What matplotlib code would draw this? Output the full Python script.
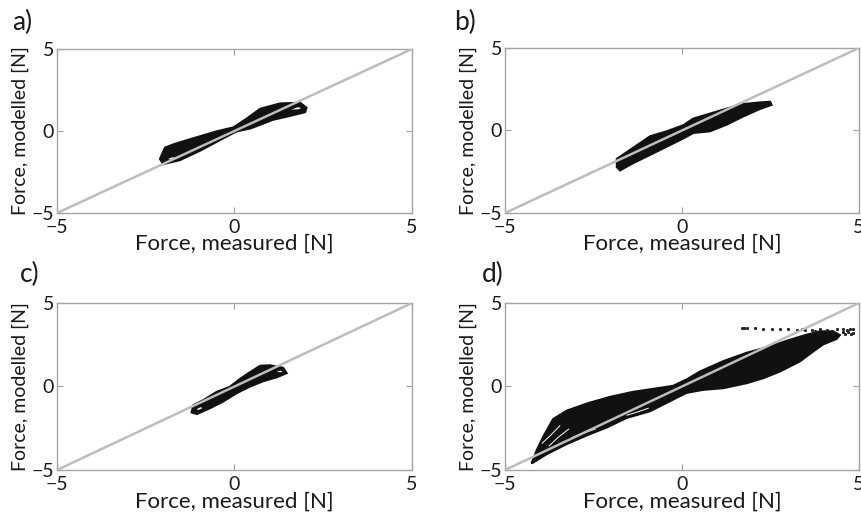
import matplotlib
matplotlib.use('Agg')
import matplotlib.pyplot as plt

plt.rcParams['font.family'] = ['Lato', 'DejaVu Sans']

# outlines of the measured/modelled force clouds
a_x = [-2.10, -1.96, -1.73, -1.25, -0.50, -0.03, 0.34, 0.72, 1.28, 1.85, 2.03,
       1.99, 1.56, 1.08, 0.44, 0.06, -0.32, -0.97, -1.54, -2.01]
a_y = [-1.70, -1.02, -0.82, -0.50, -0.02, 0.22, 0.75, 1.35, 1.68, 1.72, 1.42,
       1.15, 0.92, 0.68, 0.15, -0.02, -0.45, -1.20, -1.78, -2.02]
a_loop1_x = [1.55, 1.78, 1.95, 1.82, 1.60]
a_loop1_y = [1.32, 1.50, 1.43, 1.28, 1.25]
a_loop2_x = [-1.95, -1.75, -1.55, -1.80]
a_loop2_y = [-1.72, -1.55, -1.62, -1.80]

b_x = [-1.84, -1.38, -0.90, -0.43, 0.04, 0.32, 0.79, 1.26, 1.73, 2.20, 2.49,
       2.53, 2.20, 1.73, 1.26, 0.79, 0.32, 0.04, -0.43, -0.90, -1.38, -1.75, -1.84]
b_y = [-1.72, -1.05, -0.35, -0.05, 0.32, 0.72, 1.02, 1.32, 1.60, 1.70, 1.74,
       1.55, 1.30, 0.85, 0.35, -0.05, -0.15, -0.48, -0.98, -1.48, -1.98, -2.42, -2.22]

c_x = [-1.21, -1.16, -0.88, -0.50, -0.13, 0.15, 0.44, 0.72, 1.00, 1.37, 1.47,
       1.19, 0.81, 0.44, 0.06, -0.32, -0.69, -1.06]
c_y = [-1.55, -1.12, -0.82, -0.32, -0.02, 0.45, 0.86, 1.24, 1.27, 1.12, 0.80,
       0.55, 0.32, 0.00, -0.40, -0.90, -1.30, -1.65]
c_loop1_x = [1.08, 1.28, 1.42, 1.30]
c_loop1_y = [0.86, 1.00, 0.93, 0.80]
c_loop2_x = [-1.12, -0.95, -0.85, -1.02]
c_loop2_y = [-1.36, -1.18, -1.30, -1.46]

d_x = [-4.25, -4.10, -3.92, -3.64, -3.26, -2.69, -2.03, -1.38, -0.81, -0.25,
       0.13, 0.51, 1.17, 1.83, 2.49, 3.05, 3.52, 3.90, 4.27, 4.46,
       4.37, 3.99, 3.71, 3.33, 2.77, 2.30, 1.83, 1.17, 0.60, 0.13, -0.06,
       -0.90, -1.56, -2.13, -2.60, -3.26, -3.82, -4.20]
d_y = [-4.60, -3.80, -3.01, -1.95, -1.45, -1.02, -0.62, -0.32, -0.14, 0.04,
       0.42, 0.90, 1.52, 2.02, 2.40, 2.80, 3.10, 3.30, 3.30, 3.08,
       2.85, 2.52, 2.10, 1.50, 0.90, 0.50, 0.20, -0.10, -0.20, -0.38, -0.58,
       -1.48, -1.88, -2.46, -2.85, -3.45, -4.05, -4.55]
# stray samples above the cloud in d)
d_dots_x = [1.69, 1.76, 1.83, 2.06, 2.30, 2.53, 2.77, 3.00, 3.24, 3.38, 3.47,
            3.66, 3.76, 3.90, 4.09, 4.23, 4.37, 4.56, 4.65, 4.75, 4.83,
            4.56, 4.70, 4.83, 4.62, 4.78]
d_dots_y = [3.50, 3.50, 3.49, 3.48, 3.45, 3.47, 3.43, 3.44, 3.40, 3.42, 3.36,
            3.41, 3.33, 3.42, 3.40, 3.30, 3.43, 3.45, 3.38, 3.47, 3.42,
            3.25, 3.28, 3.22, 3.12, 3.15]
# thin white gaps between the loops in d)
d_gap1_x = [-3.95, -3.70, -3.45]
d_gap1_y = [-3.40, -2.90, -2.35]
d_gap2_x = [-3.75, -3.50, -3.20]
d_gap2_y = [-3.55, -3.05, -2.55]
d_gap3_x = [-3.10, -2.80, -2.45]
d_gap3_y = [-3.05, -2.80, -2.55]
d_gap4_x = [-1.55, -1.25, -0.95]
d_gap4_y = [-1.72, -1.52, -1.30]

ticks = [-5, 0, 5]
panels = ['a)', 'b)', 'c)', 'd)']

fig = plt.figure(figsize=(8.61, 5.19), dpi=100)
ax_a = fig.add_axes([0.0662, 0.5896, 0.4123, 0.316])
ax_b = fig.add_axes([0.5865, 0.5896, 0.4111, 0.318])
ax_c = fig.add_axes([0.0662, 0.0944, 0.4123, 0.3218])
ax_d = fig.add_axes([0.5865, 0.0944, 0.4111, 0.3218])
axes = [ax_a, ax_b, ax_c, ax_d]

blob = '#111111'
ax_a.fill(a_x, a_y, color=blob, lw=1.5)
ax_a.fill(a_loop1_x, a_loop1_y, facecolor='white', edgecolor=blob, lw=1.2)
ax_a.fill(a_loop2_x, a_loop2_y, facecolor='white', edgecolor=blob, lw=1.2)
ax_b.fill(b_x, b_y, color=blob, lw=1.5)
ax_c.fill(c_x, c_y, color=blob, lw=1.5)
ax_c.fill(c_loop1_x, c_loop1_y, facecolor='white', edgecolor=blob, lw=1.2)
ax_c.fill(c_loop2_x, c_loop2_y, facecolor='white', edgecolor=blob, lw=1.2)
ax_d.fill(d_x, d_y, color=blob, lw=1.5)
for gx, gy in [(d_gap1_x, d_gap1_y), (d_gap2_x, d_gap2_y),
               (d_gap3_x, d_gap3_y), (d_gap4_x, d_gap4_y)]:
    ax_d.plot(gx, gy, color='white', lw=0.7)
ax_d.plot(d_dots_x, d_dots_y, ls='none', marker='s', ms=1.1, color='#222222')

fig_pos = [(0.014, 0.956), (0.528, 0.956), (0.023, 0.472), (0.560, 0.472)]
for ax, lab, (px, py) in zip(axes, panels, fig_pos):
    ax.plot([-5, 5], [-5, 5], color='#bdbdbd', lw=1.8, zorder=5)
    ax.set_xlim(-5, 5)
    ax.set_ylim(-5, 5)
    ax.set_xticks(ticks)
    ax.set_yticks(ticks)
    ax.tick_params(direction='in', length=4, width=0.8, color='#a0a0a0',
                   labelsize=14, labelcolor='#1a1a1a', top=True, right=True, pad=2)
    ax.tick_params(axis='x', pad=4)
    for s in ax.spines.values():
        s.set_color('#a4a4a4')
        s.set_linewidth(1.0)
    ax.set_xlabel('Force, measured [N]', fontsize=16, color='#1a1a1a', labelpad=-1)
    ax.set_ylabel('Force, modelled [N]', fontsize=14, color='#1a1a1a', labelpad=2)
    fig.text(px, py, lab, fontsize=19, color='#1a1a1a', va='center', ha='left')

plt.savefig('out.png', dpi=100)
